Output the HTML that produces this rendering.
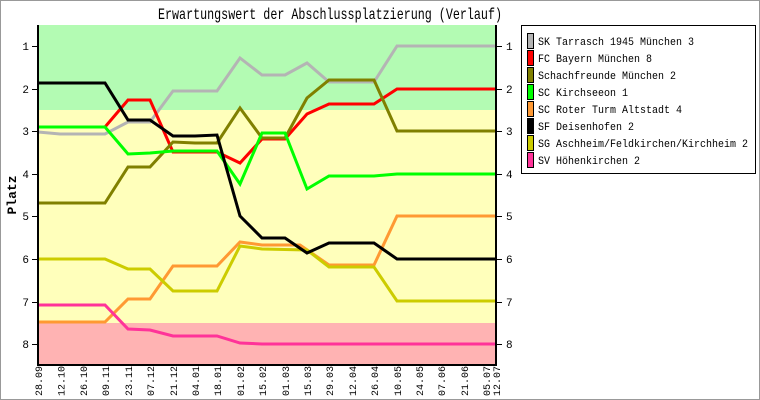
<!DOCTYPE html>
<html><head><meta charset="utf-8"><style>
html,body{margin:0;padding:0;background:#fff}
svg{display:block;font-family:"Liberation Mono","DejaVu Sans Mono",monospace}
</style></head><body>
<svg width="760" height="400" viewBox="0 0 760 400" xmlns="http://www.w3.org/2000/svg">
<rect x="0.5" y="0.5" width="759" height="399" fill="#fff" stroke="#999"/>
<text x="158" y="19" font-size="16" textLength="344" lengthAdjust="spacingAndGlyphs">Erwartungswert der Abschlussplatzierung (Verlauf)</text>
<rect x="38" y="25" width="458" height="85" fill="#b3fbb3"/>
<rect x="38" y="110" width="458" height="213" fill="#ffffbb"/>
<rect x="38" y="323" width="458" height="42" fill="#ffb3b3"/>
<g fill="none" stroke-width="3" stroke-linejoin="miter">
<polyline stroke="#b4b4b4" points="38,132 60,134 105,134 128,122 150,122 173,91 195,91 217,91 240,58 262,75 285,75 307,63 329,82 374,82 397,46 496,46"/>
<polyline stroke="#ff0000" points="38,127 105,127 128,100 150,100 173,152 217,152 240,163 262,139 285,139 307,114 329,104 374,104 397,89 496,89"/>
<polyline stroke="#808000" points="38,203 105,203 128,167 150,167 173,142 195,143 217,143 240,108 262,138 285,138 307,98 329,80 374,80 397,131 496,131"/>
<polyline stroke="#00ff00" points="38,127 105,127 128,154 150,153 173,151 217,151 240,184 262,133 285,133 307,189 329,176 374,176 397,174 496,174"/>
<polyline stroke="#ff9933" points="38,322 105,322 128,299 150,299 173,266 217,266 240,242 262,245 300,245 329,265 374,265 397,216 496,216"/>
<polyline stroke="#cccc00" points="38,259 105,259 128,269 150,269 173,291 217,291 240,246 262,249 307,250 329,267 374,267 397,301 496,301"/>
<polyline stroke="#000000" points="38,83 105,83 128,120 150,120 173,136 195,136 217,135 240,216 262,238 285,238 307,253 329,243 374,243 397,259 496,259"/>
<polyline stroke="#ff3399" points="38,305 105,305 128,329 150,330 173,336 217,336 240,343 262,344 496,344"/>
</g>
<g stroke="#000" stroke-width="2">
<line x1="38" y1="25" x2="38" y2="366"/><line x1="496" y1="25" x2="496" y2="366"/><line x1="37" y1="365" x2="497" y2="365"/>
</g>
<g stroke="#000" stroke-width="1">
<line x1="32" y1="46.5" x2="38" y2="46.5"/><line x1="32" y1="89.5" x2="38" y2="89.5"/><line x1="32" y1="131.5" x2="38" y2="131.5"/><line x1="32" y1="174.5" x2="38" y2="174.5"/><line x1="32" y1="216.5" x2="38" y2="216.5"/><line x1="32" y1="259.5" x2="38" y2="259.5"/><line x1="32" y1="302.5" x2="38" y2="302.5"/><line x1="32" y1="344.5" x2="38" y2="344.5"/>
<line x1="496" y1="46.5" x2="502" y2="46.5"/><line x1="496" y1="89.5" x2="502" y2="89.5"/><line x1="496" y1="131.5" x2="502" y2="131.5"/><line x1="496" y1="174.5" x2="502" y2="174.5"/><line x1="496" y1="216.5" x2="502" y2="216.5"/><line x1="496" y1="259.5" x2="502" y2="259.5"/><line x1="496" y1="302.5" x2="502" y2="302.5"/><line x1="496" y1="344.5" x2="502" y2="344.5"/>
</g>
<g font-size="11" text-anchor="end">
<text x="29" y="50">1</text><text x="29" y="93">2</text><text x="29" y="135">3</text><text x="29" y="178">4</text><text x="29" y="220">5</text><text x="29" y="263">6</text><text x="29" y="306">7</text><text x="29" y="348">8</text>
</g>
<g font-size="11">
<text x="506" y="50">1</text><text x="506" y="93">2</text><text x="506" y="135">3</text><text x="506" y="178">4</text><text x="506" y="220">5</text><text x="506" y="263">6</text><text x="506" y="306">7</text><text x="506" y="348">8</text>
</g>
<text transform="translate(16,195) rotate(-90)" font-size="13" font-weight="bold" text-anchor="middle">Platz</text>
<g font-size="10" text-anchor="start">
<text transform="translate(42,396) rotate(-90)">28.09</text>
<text transform="translate(64.5,396) rotate(-90)">12.10</text>
<text transform="translate(87,396) rotate(-90)">26.10</text>
<text transform="translate(109,396) rotate(-90)">09.11</text>
<text transform="translate(132,396) rotate(-90)">23.11</text>
<text transform="translate(154,396) rotate(-90)">07.12</text>
<text transform="translate(177,396) rotate(-90)">21.12</text>
<text transform="translate(199,396) rotate(-90)">04.01</text>
<text transform="translate(221,396) rotate(-90)">18.01</text>
<text transform="translate(244,396) rotate(-90)">01.02</text>
<text transform="translate(266,396) rotate(-90)">15.02</text>
<text transform="translate(289,396) rotate(-90)">01.03</text>
<text transform="translate(311,396) rotate(-90)">15.03</text>
<text transform="translate(333,396) rotate(-90)">29.03</text>
<text transform="translate(356,396) rotate(-90)">12.04</text>
<text transform="translate(378,396) rotate(-90)">26.04</text>
<text transform="translate(401,396) rotate(-90)">10.05</text>
<text transform="translate(423,396) rotate(-90)">24.05</text>
<text transform="translate(445,396) rotate(-90)">07.06</text>
<text transform="translate(468,396) rotate(-90)">21.06</text>
<text transform="translate(490,396) rotate(-90)">05.07</text>
<text transform="translate(500,396) rotate(-90)">12.07</text>
</g>
<rect x="521.5" y="25.5" width="234" height="148" fill="#fff" stroke="#000"/>
<g stroke="#000" stroke-width="1">
<rect x="527.5" y="33.5" width="6" height="15" fill="#b4b4b4"/>
<rect x="527.5" y="50.5" width="6" height="15" fill="#ff0000"/>
<rect x="527.5" y="67.5" width="6" height="15" fill="#808000"/>
<rect x="527.5" y="84.5" width="6" height="15" fill="#00ff00"/>
<rect x="527.5" y="101.5" width="6" height="15" fill="#ff9933"/>
<rect x="527.5" y="118.5" width="6" height="15" fill="#000000"/>
<rect x="527.5" y="135.5" width="6" height="15" fill="#cccc00"/>
<rect x="527.5" y="152.5" width="6" height="15" fill="#ff3399"/>
</g>
<g font-size="11">
<text x="538" y="45" textLength="156" lengthAdjust="spacingAndGlyphs">SK Tarrasch 1945 München 3</text>
<text x="538" y="62" textLength="114" lengthAdjust="spacingAndGlyphs">FC Bayern München 8</text>
<text x="538" y="79" textLength="138" lengthAdjust="spacingAndGlyphs">Schachfreunde München 2</text>
<text x="538" y="96" textLength="90" lengthAdjust="spacingAndGlyphs">SC Kirchseeon 1</text>
<text x="538" y="113" textLength="144" lengthAdjust="spacingAndGlyphs">SC Roter Turm Altstadt 4</text>
<text x="538" y="130" textLength="96" lengthAdjust="spacingAndGlyphs">SF Deisenhofen 2</text>
<text x="538" y="147" textLength="210" lengthAdjust="spacingAndGlyphs">SG Aschheim/Feldkirchen/Kirchheim 2</text>
<text x="538" y="164" textLength="102" lengthAdjust="spacingAndGlyphs">SV Höhenkirchen 2</text>
</g>
</svg>
</body></html>
